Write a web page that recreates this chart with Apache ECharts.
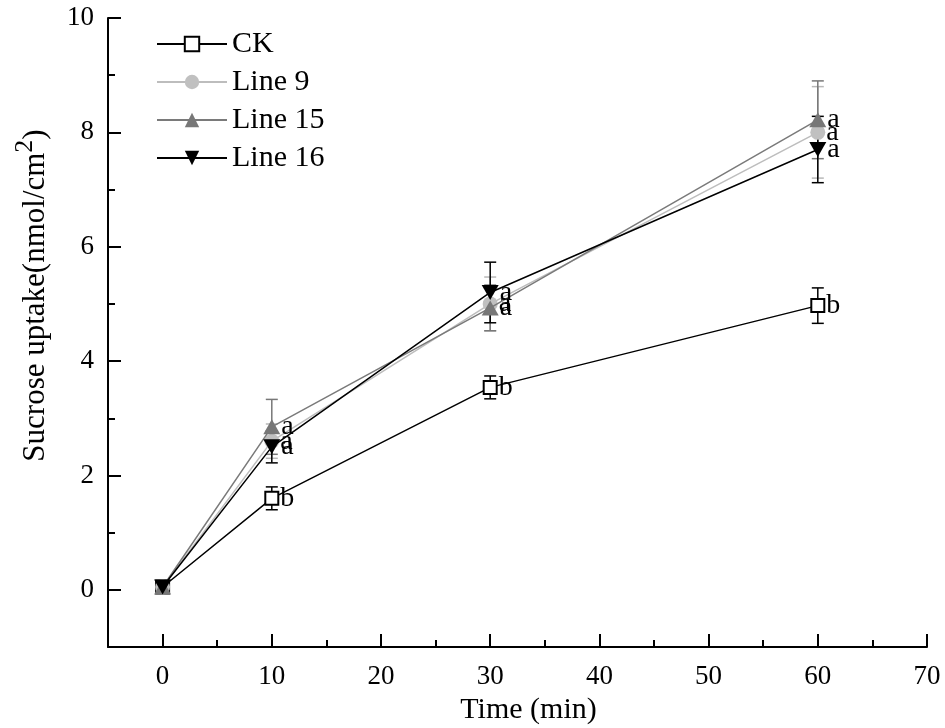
<!DOCTYPE html>
<html>
<head>
<meta charset="utf-8">
<script src="https://cdn.jsdelivr.net/npm/echarts@6/dist/echarts.min.js"></script>
<style>
html,body{margin:0;padding:0;background:#fff;}
#chart{width:945px;height:728px;}
</style>
</head>
<body>
<div id="chart"></div>
<script>
// ---- data ----
const times = [0, 10, 30, 60];
const seriesNames = ['CK', 'Line 9', 'Line 15', 'Line 16'];
const ckValues = [0.05, 1.6, 3.54, 4.97];
const line9Values = [0.05, 2.6, 5.0, 8.0];
const line15Values = [0.05, 2.85, 4.93, 8.22];
const line16Values = [0.05, 2.5, 5.2, 7.7];
const ckErrors = [0, 0.2, 0.2, 0.31];
const line9Errors = [0, 0.3, 0.47, 0.8];
const line15Errors = [0, 0.48, 0.4, 0.68];
const line16Errors = [0, 0.28, 0.53, 0.58];
const ckLetters = ['', 'b', 'b', 'b'];
const line9Letters = ['', 'a', 'a', 'a'];
const line15Letters = ['', 'a', 'a', 'a'];
const line16Letters = ['', 'a', 'a', 'a'];
const xTickLabels = [0, 10, 20, 30, 40, 50, 60, 70];
const xMinorTicks = [5, 15, 25, 35, 45, 55, 65];
const yTickLabels = [0, 2, 4, 6, 8, 10];
const yMinorTicks = [1, 3, 5, 7, 9];

const FONT = '"Liberation Serif", "Times New Roman", serif';
const values = [ckValues, line9Values, line15Values, line16Values];
const errors = [ckErrors, line9Errors, line15Errors, line16Errors];
const letters = [ckLetters, line9Letters, line15Letters, line16Letters];
const lineColors = ['#000000', '#bdbdbd', '#7a7a7a', '#000000'];
const markerColors = ['#000000', '#c0c0c0', '#777777', '#000000'];
const errColors = ['#000000', '#b8b8b8', '#777777', '#000000'];
const symbols = ['emptyRect', 'circle', 'triangle', 'path://M0,0L10,0L5,9Z'];
const symbolSizes = [13, 15, [17, 15], [17, 15]];

const series = [];
values.forEach((vals, i) => {
  series.push({
    type: 'custom',
    name: seriesNames[i] + ' err',
    xAxisIndex: 0, yAxisIndex: 0,
    z: 2 + i,
    silent: true,
    data: times.map((t, k) => [t, vals[k] - errors[i][k], vals[k] + errors[i][k]]),
    renderItem: function (params, api) {
      const x = api.value(0);
      const lo = api.coord([x, api.value(1)]);
      const hi = api.coord([x, api.value(2)]);
      const w = 6;
      const st = { stroke: errColors[i], lineWidth: 1.5 };
      return {
        type: 'group',
        children: [
          { type: 'line', shape: { x1: lo[0], y1: lo[1], x2: hi[0], y2: hi[1] }, style: st },
          { type: 'line', shape: { x1: lo[0] - w, y1: lo[1], x2: lo[0] + w, y2: lo[1] }, style: st },
          { type: 'line', shape: { x1: hi[0] - w, y1: hi[1], x2: hi[0] + w, y2: hi[1] }, style: st }
        ]
      };
    }
  });
});
values.forEach((vals, i) => {
  series.push({
    type: 'line',
    name: seriesNames[i],
    xAxisIndex: 0, yAxisIndex: 0,
    z: 10 + i,
    data: times.map((t, k) => [t, vals[k]]),
    symbol: symbols[i],
    symbolSize: symbolSizes[i],
    showAllSymbol: true,
    lineStyle: { color: lineColors[i], width: 1.5 },
    itemStyle: { color: markerColors[i], borderColor: markerColors[i], borderWidth: i === 0 ? 1.5 : 0 },
    emphasis: { disabled: true },
    label: {
      show: true,
      position: 'right',
      distance: 1,
      fontFamily: FONT,
      fontSize: 28,
      color: '#000',
      formatter: function (p) { return letters[i][p.dataIndex]; }
    }
  });
});

const chart = echarts.init(document.getElementById('chart'));
chart.setOption({
  backgroundColor: '#fff',
  animation: false,
  grid: { left: 108, right: 18, top: 18, bottom: 81, containLabel: false, outerBoundsMode: 'none' },
  legend: {
    data: seriesNames,
    orient: 'vertical',
    left: 151,
    top: 24,
    itemWidth: 70,
    itemHeight: 18,
    itemGap: 8,
    textStyle: { fontFamily: FONT, fontSize: 30, color: '#000', lineHeight: 30 }
  },
  xAxis: [{
    type: 'value',
    min: -5, max: 70,
    name: 'Time (min)',
    nameLocation: 'middle',
    nameGap: 46,
    nameTextStyle: { fontFamily: FONT, fontSize: 30, color: '#000', padding: [0, 0, 0, 22] },
    axisLine: { show: true, onZero: false, lineStyle: { color: '#000', width: 2 } },
    axisTick: { show: true, inside: true, length: 13, lineStyle: { color: '#000', width: 2 }, customValues: xTickLabels },
    axisLabel: { show: true, margin: 16, fontFamily: FONT, fontSize: 27, color: '#000', customValues: xTickLabels },
    splitLine: { show: false }
  }, {
    type: 'value',
    min: -5, max: 70,
    position: 'bottom',
    axisLine: { show: false, onZero: false },
    axisTick: { show: true, inside: true, length: 7, lineStyle: { color: '#000', width: 2 }, customValues: xMinorTicks },
    axisLabel: { show: false },
    splitLine: { show: false }
  }],
  yAxis: [{
    type: 'value',
    min: -1, max: 10,
    name: '{n|Sucrose uptake(nmol/cm}{s|2}{n|)}',
    nameLocation: 'middle',
    nameRotate: 90,
    nameGap: 48,
    nameTextStyle: {
      fontFamily: FONT, fontSize: 31, color: '#000',
      padding: [0, 0, 0, 74],
      rich: {
        n: { fontFamily: FONT, fontSize: 31, color: '#000' },
        s: { fontFamily: FONT, fontSize: 26, color: '#000', padding: [0, 0, 22, 0] }
      }
    },
    axisLine: { show: true, onZero: false, lineStyle: { color: '#000', width: 2 } },
    axisTick: { show: true, inside: true, length: 13, lineStyle: { color: '#000', width: 2 }, customValues: yTickLabels },
    axisLabel: { show: true, margin: 14, fontFamily: FONT, fontSize: 27, color: '#000', customValues: yTickLabels },
    splitLine: { show: false }
  }, {
    type: 'value',
    min: -1, max: 10,
    position: 'left',
    axisLine: { show: false, onZero: false },
    axisTick: { show: true, inside: true, length: 7, lineStyle: { color: '#000', width: 2 }, customValues: yMinorTicks },
    axisLabel: { show: false },
    splitLine: { show: false }
  }],
  series: series
});
</script>
</body>
</html>
